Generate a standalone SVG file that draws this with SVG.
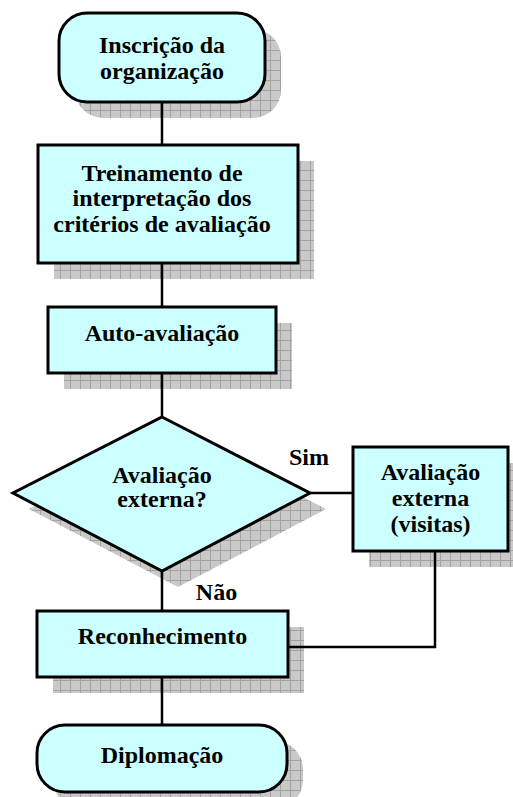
<svg xmlns="http://www.w3.org/2000/svg" width="513" height="797" viewBox="0 0 513 797">
<defs>
<pattern id="grid" width="10" height="10" patternUnits="userSpaceOnUse">
<rect width="10" height="10" fill="#c9c9c9"/>
<path d="M0 0.5H10M0.5 0V10" stroke="#a2a2a2" stroke-width="1" fill="none"/>
</pattern>
</defs>
<style>
.shadow{fill:url(#grid);stroke:none}
.node{fill:#ccffff;stroke:#000;stroke-width:3}
.lbl{font-family:"Liberation Serif","Times New Roman",serif;font-weight:bold;font-size:24px;fill:#000;text-anchor:middle}
.conn{stroke:#000;stroke-width:2.5;fill:none}
</style>
<rect width="513" height="797" fill="#fff"/>

<g id="n1">
<rect class="shadow" x="75" y="29" width="206" height="89" rx="28"/>
<rect class="node" x="59" y="13" width="206" height="89" rx="28"/>
<text class="lbl" x="162" y="53">Inscrição da</text>
<text class="lbl" x="162" y="79">organização</text>
</g>

<g id="n2">
<rect class="shadow" x="54" y="161" width="260" height="118"/>
<rect class="node" x="38" y="145" width="260" height="118"/>
<text class="lbl" x="162" y="181">Treinamento de</text>
<text class="lbl" x="162" y="206">interpretação dos</text>
<text class="lbl" x="162" y="232">critérios de avaliação</text>
</g>

<g id="n3">
<rect class="shadow" x="64" y="323" width="228" height="66"/>
<rect class="node" x="48" y="307" width="228" height="66"/>
<text class="lbl" x="162" y="341">Auto-avaliação</text>
</g>

<g id="n4">
<polygon class="shadow" points="178,433 326,509 178,587 29,509"/>
<polygon class="node" points="162,417 310,493 162,571 13,493"/>
<text class="lbl" x="162" y="483">Avaliação</text>
<text class="lbl" x="162" y="507">externa?</text>
</g>

<g id="n5">
<rect class="shadow" x="369" y="463" width="155" height="104"/>
<rect class="node" x="353" y="447" width="155" height="104"/>
<text class="lbl" x="430.5" y="480">Avaliação</text>
<text class="lbl" x="430.5" y="506">externa</text>
<text class="lbl" x="430.5" y="532">(visitas)</text>
</g>

<g id="n6">
<rect class="shadow" x="53" y="627" width="251" height="66"/>
<rect class="node" x="37" y="611" width="251" height="66"/>
<text class="lbl" x="162.5" y="644">Reconhecimento</text>
</g>

<g id="n7">
<rect class="shadow" x="53" y="741" width="250" height="67" rx="28"/>
<rect class="node" x="37" y="725" width="250" height="67" rx="28"/>
<text class="lbl" x="162" y="763">Diplomação</text>
</g>

<g id="connectors">
<path class="conn" d="M162 102V145"/>
<path class="conn" d="M162 263V307"/>
<path class="conn" d="M162 373V417"/>
<path class="conn" d="M310 493H353"/>
<path class="conn" d="M162 571V611"/>
<path class="conn" d="M435 551V647H288"/>
<path class="conn" d="M162 677V725"/>
<text class="lbl" x="309" y="465">Sim</text>
<text class="lbl" x="216.5" y="600">Não</text>
</g>
</svg>
